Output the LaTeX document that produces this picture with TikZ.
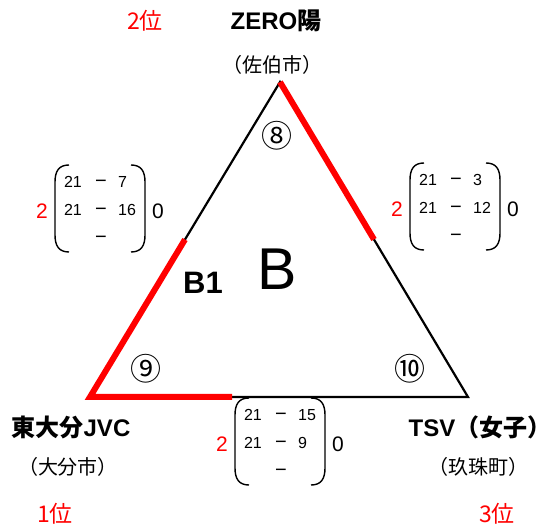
\documentclass[tikz,border=0pt]{standalone}
\usepackage{fontspec}
\setmainfont{Liberation Sans}
\newfontfamily\cjk{Noto Sans CJK JP}
\usetikzlibrary{calc}
\tikzset{
  team/.style={inner sep=0pt, font=\fontsize{24}{28}\selectfont\bfseries},
  city/.style={inner sep=0pt, font=\cjk\fontsize{20}{24}\selectfont},
  rank/.style={inner sep=0pt, text=red, font=\cjk\fontsize{23}{27}\selectfont},
  score/.style={inner sep=0pt, font=\fontsize{16}{19}\selectfont},
  dashmark/.style={inner sep=0pt, anchor=base, font=\fontsize{20}{22}\selectfont},
  setwin/.style={inner sep=0pt, text=red, font=\fontsize{21}{24}\selectfont},
  setlose/.style={inner sep=0pt, font=\fontsize{21}{24}\selectfont},
  circnum/.style={inner sep=0pt, font=\cjk\fontsize{31}{34}\selectfont},
  paren/.style={line width=1.4pt},
  edgeline/.style={line width=2.2pt},
  redline/.style={red, line width=6pt, line join=miter},
}
\newcommand\scoremat[5]{%
  \begin{scope}[shift={(#1,#2)}]
    \draw[paren] (14,0) .. controls (4,0) and (0,6) .. (0,17) -- (0,70) .. controls (0,81) and (4,87) .. (14,87);
    \draw[paren] (76,0) .. controls (86,0) and (90,6) .. (90,17) -- (90,70) .. controls (90,81) and (86,87) .. (76,87);
    \node[score] (#3a1) at (18,17) {21};
    \node[dashmark] (#3d1) at (46,23) {−};
    \node[score, anchor=west] (#3b1) at (63,17) {#4};
    \node[score] (#3a2) at (18,45) {21};
    \node[dashmark] (#3d2) at (46,51) {−};
    \node[score, anchor=west] (#3b2) at (63,45) {#5};
    \node[dashmark] (#3d3) at (46,79) {−};
    \node[setwin] (#3w) at (-13,46) {2};
    \node[setlose] (#3l) at (103,46) {0};
  \end{scope}}
\begin{document}
\begin{tikzpicture}[x=1pt, y=-1pt]
  \useasboundingbox (0,0) rectangle (555,529);
  \coordinate (T) at (280,82);
  \coordinate (L) at (90,397);
  \coordinate (R) at (468,397);
  \draw[edgeline] (T) -- (L) -- (R) -- cycle;
  \coordinate (mTR) at ($(T)!0.5!(R)$);
  \coordinate (mTL) at ($(L)!0.5!(T)$);
  \coordinate (mLR) at ($(L)!0.376!(R)$);
  \draw[redline] (T) -- (mTR);
  \draw[redline] (mTL) -- (L) -- (mLR);

  \node[circnum] (c8) at (277,136) {⑧};
  \node[circnum] (c9) at (146,369) {⑨};
  \node[circnum] (c10) at (410,369) {⑩};
  \node[inner sep=0pt, font=\fontsize{59}{62}\selectfont] (B) at (277,269) {B};
  \node[inner sep=0pt, font=\fontsize{31}{34}\selectfont\bfseries] (B1) at (203,283) {B1};

  \node[team] (zero) at (276,21) {ZERO{\cjk\bfseries 陽}};
  \node[city] (saiki) at (272,65) {（佐伯市）};
  \node[rank] (r2) at (145,21) {2位};

  \node[team] (hoita) at (71,427) {{\cjk\bfseries 東大分}JVC};
  \node[city] (oita) at (68,467) {（大分市）};
  \node[rank] (r1) at (55,514) {1位};

  \node[team] (tsv) at (480,427) {TSV{\cjk\bfseries （女子）}};
  \node[city] (kusu) at (478,467) {（玖珠町）};
  \node[rank] (r3) at (497,514) {3位};

  \scoremat{55}{165}{ml}{7}{16}
  \scoremat{410}{163}{mr}{3}{12}
  \scoremat{235}{398}{mb}{15}{9}
\end{tikzpicture}
\end{document}
